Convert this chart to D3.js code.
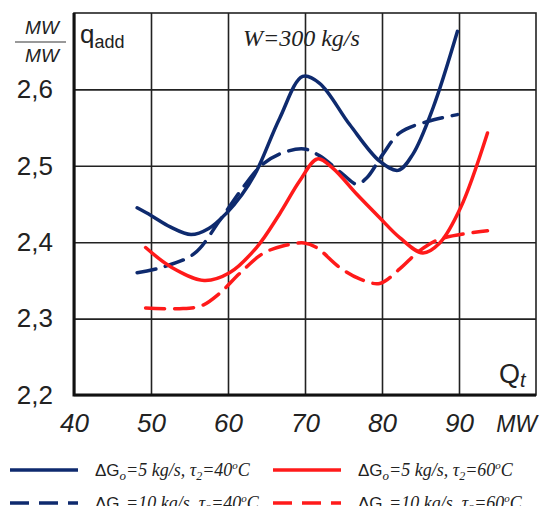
<!DOCTYPE html>
<html>
<head>
<meta charset="utf-8">
<script src="https://cdn.jsdelivr.net/npm/d3@7"></script>
<style>
  body { margin: 0; background: #fff; }
  svg text { fill: #222; }
</style>
</head>
<body>
<div id="chart"></div>
<script>
// VARIABLES
var width = 553;
var height = 506;
var plotLeft = 74, plotRight = 536, plotTop = 13, plotBottom = 395;

// data (Qt in MW, q_add in MW/MW)
var xTicks = [40, 50, 60, 70, 80, 90];
var yTicks = [2.2, 2.3, 2.4, 2.5, 2.6];

var qt5_40 = [48.2, 50, 52.5, 55.2, 57.5, 59.8, 61.8, 63.7, 66.7, 69.7, 71.9, 75.8, 79.7, 82.1, 84.0, 86.6, 89.8];
var q5_40 = [2.445, 2.435, 2.420, 2.410, 2.418, 2.438, 2.462, 2.493, 2.562, 2.617, 2.608, 2.554, 2.506, 2.494, 2.515, 2.575, 2.676];

var qt10_40 = [48.2, 51.4, 55.6, 58.9, 61.9, 64.5, 67.1, 69.9, 71.9, 74.9, 76.7, 78.0, 80.1, 82.3, 85.9, 89.8];
var q10_40 = [2.360, 2.367, 2.385, 2.428, 2.471, 2.502, 2.517, 2.522, 2.513, 2.489, 2.476, 2.484, 2.515, 2.543, 2.558, 2.567];

var qt5_60 = [49.3, 52.7, 56.9, 60.2, 63.7, 66.7, 69.3, 71.6, 73.6, 76.7, 79.7, 82.3, 85.3, 87.5, 90.2, 93.7];
var q5_60 = [2.393, 2.367, 2.350, 2.360, 2.393, 2.437, 2.480, 2.509, 2.497, 2.463, 2.432, 2.406, 2.386, 2.399, 2.445, 2.543];

var qt10_60 = [49.3, 53.7, 56.6, 58.9, 61.5, 64.5, 67.1, 69.9, 71.5, 74.5, 77.1, 79.7, 82.3, 84.9, 87.5, 93.7];
var q10_60 = [2.314, 2.313, 2.317, 2.333, 2.359, 2.385, 2.395, 2.399, 2.393, 2.367, 2.352, 2.346, 2.365, 2.389, 2.404, 2.415];

var navy = "#0e2a6e";
var red = "#ff1a1a";

var series = [
  { qt: qt5_40, q: q5_40, color: navy, dash: null, g: "5", t: "40" },
  { qt: qt10_40, q: q10_40, color: navy, dash: "19,10", g: "10", t: "40" },
  { qt: qt5_60, q: q5_60, color: red, dash: null, g: "5", t: "60" },
  { qt: qt10_60, q: q10_60, color: red, dash: "19,10", g: "10", t: "60" }
];

var svg = d3.select("#chart")
  .append("svg")
  .attr("width", width)
  .attr("height", height);

var xScale = d3.scaleLinear().domain([40, 100]).range([plotLeft, plotRight]);
var yScale = d3.scaleLinear().domain([2.2, 2.7]).range([plotBottom, plotTop]);

var comma = function(d) { return d3.format(".1f")(d).replace(".", ","); };

// grid + tick labels via axes
var xAxis = d3.axisBottom(xScale)
  .tickValues(xTicks)
  .tickSizeInner(-(plotBottom - plotTop))
  .tickSizeOuter(0)
  .tickPadding(19);

var gx = svg.append("g")
  .attr("transform", "translate(0," + plotBottom + ")")
  .call(xAxis);
gx.select(".domain").remove();
gx.selectAll("line").attr("stroke", "#222").attr("stroke-width", 1.6);
gx.selectAll("text")
  .attr("font-family", "Liberation Sans, Arial, sans-serif")
  .attr("font-style", "italic")
  .attr("font-size", "26px")
  .attr("fill", "#222");

var yAxis = d3.axisLeft(yScale)
  .tickValues(yTicks)
  .tickFormat(comma)
  .tickSizeInner(-(plotRight - plotLeft))
  .tickSizeOuter(0)
  .tickPadding(21);

var gy = svg.append("g")
  .attr("transform", "translate(" + plotLeft + ",0)")
  .call(yAxis);
gy.select(".domain").remove();
gy.selectAll("line").attr("stroke", "#222").attr("stroke-width", 1.6);
gy.selectAll("text")
  .attr("font-family", "Liberation Sans, Arial, sans-serif")
  .attr("font-size", "26px")
  .attr("fill", "#222");

// frame: thin top/right, thicker left/bottom
svg.append("rect")
  .attr("x", plotLeft).attr("y", plotTop)
  .attr("width", plotRight - plotLeft).attr("height", plotBottom - plotTop)
  .attr("fill", "none").attr("stroke", "#222").attr("stroke-width", 1.6);
svg.append("path")
  .attr("d", "M" + plotLeft + "," + plotTop + "V" + plotBottom + "H" + plotRight)
  .attr("fill", "none").attr("stroke", "#111").attr("stroke-width", 3);

// curves
var line = d3.line()
  .x(function(d) { return xScale(d[0]); })
  .y(function(d) { return yScale(d[1]); })
  .curve(d3.curveCatmullRom.alpha(0.5));

series.forEach(function(s) {
  var pts = s.qt.map(function(v, i) { return [v, s.q[i]]; });
  svg.append("path")
    .datum(pts)
    .attr("d", line)
    .attr("fill", "none")
    .attr("stroke", s.color)
    .attr("stroke-width", 3.5)
    .attr("stroke-linecap", "round")
    .attr("stroke-dasharray", s.dash);
});

// labels
var unit = svg.append("g").attr("font-family", "Liberation Sans, Arial, sans-serif")
  .attr("font-style", "italic").attr("font-size", "19px");
unit.append("text").attr("x", 42).attr("y", 34).attr("text-anchor", "middle").attr("fill", "#555").text("MW");
unit.append("text").attr("x", 42).attr("y", 62).attr("text-anchor", "middle").attr("fill", "#555").text("MW");
svg.append("line").attr("x1", 15).attr("x2", 66).attr("y1", 42).attr("y2", 42)
  .attr("stroke", "#777").attr("stroke-width", 1.5);

var qlab = svg.append("text").attr("x", 80).attr("y", 43)
  .attr("font-family", "Liberation Sans, Arial, sans-serif").attr("font-size", "26px");
qlab.append("tspan").text("q");
qlab.append("tspan").attr("font-size", "18px").attr("dy", 5).text("add");

svg.append("text").attr("x", 243).attr("y", 46)
  .attr("font-family", "Liberation Serif, Times New Roman, serif")
  .attr("font-style", "italic").attr("font-size", "24px")
  .text("W=300 kg/s");

var qt = svg.append("text").attr("x", 499).attr("y", 383)
  .attr("font-family", "Liberation Sans, Arial, sans-serif").attr("font-size", "27px");
qt.append("tspan").text("Q");
qt.append("tspan").attr("font-size", "20px").attr("font-style", "italic").attr("dy", 4).text("t");

svg.append("text").attr("x", 537).attr("y", 432).attr("text-anchor", "end")
  .attr("font-family", "Liberation Sans, Arial, sans-serif")
  .attr("font-style", "italic").attr("font-size", "23px")
  .text("MW");

// legend
var legX = [10, 273];
var legY = [470, 503];
series.forEach(function(s, i) {
  var col = i < 2 ? 0 : 1;
  var row = i % 2;
  var lx = legX[col], ly = legY[row];
  svg.append("line")
    .attr("x1", lx).attr("x2", lx + 68)
    .attr("y1", ly).attr("y2", ly)
    .attr("stroke", s.color).attr("stroke-width", 3.5)
    .attr("stroke-dasharray", s.dash);
  var t = svg.append("text")
    .attr("x", lx + 85).attr("y", ly + 6)
    .attr("font-family", "Liberation Serif, Times New Roman, serif")
    .attr("font-size", "18px").attr("fill", "#333");
  t.append("tspan").attr("font-family", "Liberation Sans, Arial, sans-serif").attr("font-size", "17px").text("\u0394G");
  t.append("tspan").attr("font-style", "italic").attr("font-size", "13px").attr("dy", 4).text("o");
  t.append("tspan").attr("font-style", "italic").attr("dy", -4).text("=" + s.g + " kg/s, \u03c4");
  t.append("tspan").attr("font-style", "italic").attr("font-size", "12px").attr("dy", 4).text("2");
  t.append("tspan").attr("font-style", "italic").attr("dy", -4).text("=" + s.t);
  t.append("tspan").attr("font-style", "italic").attr("font-size", "11px").attr("dy", -7).text("o");
  t.append("tspan").attr("font-style", "italic").attr("dy", 7).text("C");
});
</script>
</body>
</html>
